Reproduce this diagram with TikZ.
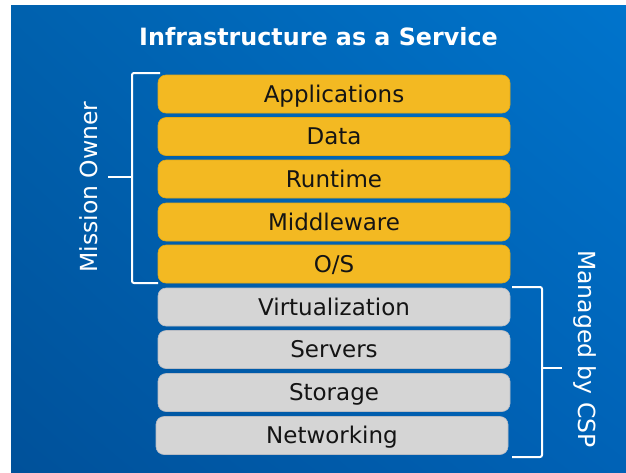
\documentclass[tikz,border=0pt]{standalone}
\usepackage{fontspec}
\setmainfont{DejaVu Sans}
\usetikzlibrary{shadings}
\definecolor{bgLL}{HTML}{00519A}
\definecolor{bgUR}{HTML}{0074CC}
\definecolor{bgUL}{HTML}{0061AE}
\definecolor{bgLR}{HTML}{0062B6}
\definecolor{boxYellow}{HTML}{F3B922}
\definecolor{boxYellowEdge}{HTML}{E0A818}
\definecolor{boxGray}{HTML}{D5D5D5}
\definecolor{boxGrayEdge}{HTML}{B8BCC4}
\definecolor{labelInk}{HTML}{141414}
\tikzset{
  layerbox/.style={rounded corners=8pt, minimum width=352pt, minimum height=38pt,
    inner sep=0pt, line width=0.6pt, text=labelInk,
    font=\fontsize{23}{23}\selectfont, text height=16.8pt, text depth=0pt},
  ownerbox/.style={layerbox, fill=boxYellow, draw=boxYellowEdge},
  cspbox/.style={layerbox, fill=boxGray, draw=boxGrayEdge},
  bracketline/.style={draw=white, line width=2pt, rounded corners=2pt},
  sidelabel/.style={text=white, font=\fontsize{23.5}{23.5}\selectfont, inner sep=0pt,
    text height=17pt, text depth=0pt},
  titlelabel/.style={text=white, font=\bfseries\fontsize{23.8}{23.8}\selectfont, inner sep=0pt,
    text height=17.4pt, text depth=0pt}
}
\begin{document}
\begin{tikzpicture}[x=1pt, y=-1pt]
  \useasboundingbox (0,0) rectangle (626,472);
  \shade[upper left=bgUL, upper right=bgUR, lower left=bgLL, lower right=bgLR]
    (11,5) rectangle (626,472);

  \node[titlelabel] (title) at (318.5,37) {Infrastructure as a Service};

  \node[ownerbox] (app)  at (334,94)    {Applications};
  \node[ownerbox] (data) at (334,136.5) {Data};
  \node[ownerbox] (rt)   at (334,179)   {Runtime};
  \node[ownerbox] (mw)   at (334,222)   {Middleware};
  \node[ownerbox] (os)   at (334,264)   {O/S};
  \node[cspbox]   (virt) at (334,307)   {Virtualization};
  \node[cspbox]   (srv)  at (334,349.5) {Servers};
  \node[cspbox]   (sto)  at (334,392.5) {Storage};
  \node[cspbox]   (net)  at (332,435.5) {Networking};

  % left bracket (Mission Owner)
  \coordinate (lbTop) at (160,73);
  \coordinate (lbBot) at (158,283);
  \coordinate (lbTick) at (108,177);
  \draw[bracketline] (lbTop) -- (132,73) -- (132,283) -- (lbBot);
  \draw[bracketline, rounded corners=0pt] (lbTick) -- (132,177);
  \node[sidelabel, rotate=90] (owner) at (89,187) {Mission Owner};

  % right bracket (Managed by CSP)
  \coordinate (rbTop) at (512,287);
  \coordinate (rbBot) at (512,457);
  \coordinate (rbTick) at (562,368);
  \draw[bracketline] (rbTop) -- (542,287) -- (542,457) -- (rbBot);
  \draw[bracketline, rounded corners=0pt] (542,368) -- (rbTick);
  \node[sidelabel, rotate=-90] (csp) at (587,349) {Managed by CSP};
\end{tikzpicture}
\end{document}
